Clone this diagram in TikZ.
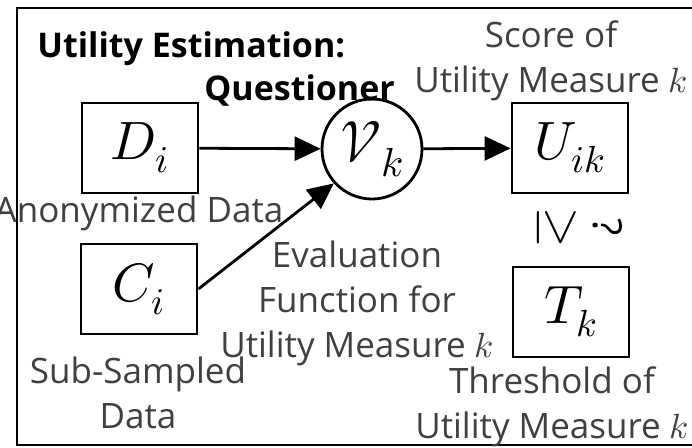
\documentclass[tikz,border=0pt]{standalone}
\usepackage{fontspec}
\usepackage{unicode-math}
\setmainfont{Open Sans}
\setmathfont{Latin Modern Math}
\usetikzlibrary{arrows.meta}
\definecolor{labelgray}{RGB}{64,64,64}

\begin{document}
\begin{tikzpicture}[x=0.5pt,y=-0.5pt,line width=1.4pt,>={Triangle[length=13pt,width=12pt]},
  databox/.style={draw,minimum width=58pt,minimum height=45pt,inner sep=0pt,font=\fontsize{27}{30}\selectfont},
  lbl/.style={text=labelgray,align=center,inner sep=0pt,font=\fontsize{17.5}{22.5}\selectfont},
  titletext/.style={anchor=base west,inner sep=0pt,font=\fontsize{17}{20}\selectfont\bfseries}]
\useasboundingbox (0,0) rectangle (692,447);
\draw[line width=1.3pt] (692,8) -- (17,8) -- (17,445) -- (692,445);
% title
\node[titletext] (title1) at (36,57) {Utility Estimation:};
\node[titletext] (title2) at (203,100) {Questioner};
% data, evaluation and threshold
\foreach \x/\y/\n/\t in {140/148/D/D_i,139/289/C/C_i,570/148/U/U_{ik},571/312/T/T_k}{
  \node[databox] (\n) at (\x,\y) {$\t$};}
\node[circle,draw,minimum size=50pt,inner sep=0pt,font=\fontsize{29}{30}\selectfont] (V) at (372,149) {$\mathcal{V}_k$};
\draw[->] (D) -- (V);
\draw[->] (V) -- (U);
\draw[->] (C.east) -- (V.222);
\node[inner sep=0pt] (cmp) at (580,228) {\rotatebox[origin=c]{-90}{\fontsize{26}{28}\selectfont$\geq$}\hspace{8pt}\rotatebox[origin=c]{-90}{\fontsize{20}{22}\selectfont ?}};
% labels (base = last line)
\node[lbl,anchor=base] (anon) at (139,222) {Anonymized Data};
\node[lbl,anchor=base] (sub) at (138,428) {Sub-Sampled\\Data};
\node[lbl,anchor=base] (evalf) at (357,357) {Evaluation\\Function for\\Utility Measure $k$};
\node[lbl,anchor=base] (score) at (551,92) {Score of\\Utility Measure $k$};
\node[lbl,anchor=base] (thr) at (552,438) {Threshold of\\Utility Measure $k$};
\end{tikzpicture}
\end{document}
